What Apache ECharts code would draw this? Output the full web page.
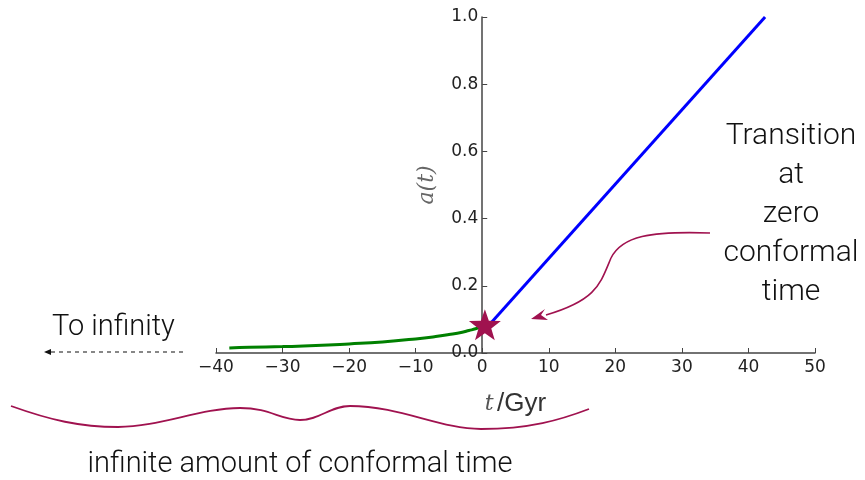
<!DOCTYPE html>
<html>
<head>
<meta charset="utf-8">
<script src="https://cdn.jsdelivr.net/npm/echarts@6/dist/echarts.min.js"></script>
<style>
  html, body { margin: 0; padding: 0; background: #fff; }
  #chart { width: 865px; height: 480px; }
</style>
</head>
<body>
<div id="chart"></div>
<script>
// data
var greenT = [-38, -35, -30, -25, -20, -15, -10, -7, -5, -3, -2, -1, 0];
var greenA = [0.015, 0.017, 0.019, 0.022, 0.027, 0.033, 0.042, 0.049, 0.055, 0.062, 0.067, 0.072, 0.079];
var blueT = [0.8, 42.5];
var blueA = [0.078, 1.0];
var starPoint = [0.4, 0.084];
var xTicks = [-40, -30, -20, -10, 0, 10, 20, 30, 40, 50];
var yTicks = [0.0, 0.2, 0.4, 0.6, 0.8, 1.0];

function pairs(xs, ys) {
  return xs.map(function (x, i) { return [x, ys[i]]; });
}

var crimson = '#a0124f';
var starPath = 'path://M0,-10 L2.35,-3.24 L9.51,-3.09 L3.8,1.24 L5.88,8.09 L0,4 L-5.88,8.09 L-3.8,1.24 L-9.51,-3.09 L-2.35,-3.24 Z';
var annoFont = 'Roboto, "Liberation Sans", sans-serif';

var gridLeft = 216, gridRight = 50;
// the y axis sits at t = 0, not at the grid edge
var yAxisShift = (865 - gridLeft - gridRight) * (0 - xTicks[0]) / (xTicks[xTicks.length - 1] - xTicks[0]);

// cubic pieces for the hand-drawn decorations
function curve(p, color, w) {
  return {
    type: 'bezierCurve',
    shape: { x1: p[0], y1: p[1], cpx1: p[2], cpy1: p[3], cpx2: p[4], cpy2: p[5], x2: p[6], y2: p[7] },
    style: { stroke: color, fill: null, lineWidth: w }
  };
}

var arrowCurve = [
  [710, 233, 650, 231, 622, 236, 611, 258],
  [611, 258, 600, 284, 597, 300, 546, 315]
];
var waveCurve = [
  [11, 406, 50, 420, 80, 427, 118, 427],
  [118, 427, 160, 427, 200, 408, 240, 408],
  [240, 408, 270, 408, 280, 420, 300, 420],
  [300, 420, 320, 420, 330, 406, 350, 406],
  [350, 406, 400, 406, 440, 429, 481, 429],
  [481, 429, 530, 429, 560, 420, 589, 409]
];

var decorations = [
  {
    type: 'text', x: 791, y: 117,
    style: {
      text: 'Transition\nat\nzero\nconformal\ntime',
      align: 'center', lineHeight: 39,
      font: '300 30px ' + annoFont, fill: '#111'
    }
  },
  {
    type: 'polygon',
    shape: { points: [[531, 319], [545, 309], [541, 315], [548, 320]] },
    style: { fill: crimson }
  },
  {
    type: 'text', x: 52, y: 313,
    style: { text: 'To infinity', font: '300 29px ' + annoFont, fill: '#111' }
  },
  {
    type: 'line',
    shape: { x1: 183, y1: 352, x2: 50, y2: 352 },
    style: { stroke: '#111', lineWidth: 1, lineDash: [4, 4] }
  },
  {
    type: 'polygon',
    shape: { points: [[44, 352], [51, 349], [51, 355]] },
    style: { fill: '#111' }
  },
  {
    type: 'text', x: 300, y: 450,
    style: {
      text: 'infinite amount of conformal time', align: 'center',
      font: '300 29px ' + annoFont, fill: '#111'
    }
  }
];
arrowCurve.forEach(function (p) { decorations.push(curve(p, crimson, 1.6)); });
waveCurve.forEach(function (p) { decorations.push(curve(p, crimson, 1.8)); });

var myChart = echarts.init(document.getElementById('chart'));
var option = {
  animation: false,
  grid: { left: gridLeft, right: gridRight, top: 17, bottom: 127 },
  xAxis: {
    type: 'value',
    min: xTicks[0],
    max: xTicks[xTicks.length - 1],
    interval: 10,
    name: '{i|t} {n|/Gyr}',
    nameLocation: 'middle',
    nameGap: 38,
    nameTextStyle: {
      rich: {
        i: { fontFamily: 'DejaVu Serif', fontStyle: 'italic', fontSize: 22, color: '#555' },
        n: { fontFamily: 'Liberation Sans', fontSize: 26, color: '#333' }
      }
    },
    splitLine: { show: false },
    axisLine: { onZero: false, lineStyle: { color: '#444', width: 1.5 } },
    axisTick: { inside: true, length: 5, lineStyle: { color: '#444' } },
    axisLabel: {
      fontFamily: 'DejaVu Sans', fontSize: 17, color: '#222', margin: 6,
      formatter: function (v) { return String(v).replace('-', '\u2212'); }
    }
  },
  yAxis: {
    type: 'value',
    min: yTicks[0],
    max: yTicks[yTicks.length - 1],
    interval: 0.2,
    offset: -yAxisShift,
    name: 'a(t)',
    nameLocation: 'middle',
    nameGap: 44,
    nameTextStyle: { fontFamily: 'DejaVu Serif', fontStyle: 'italic', fontSize: 22, color: '#666' },
    splitLine: { show: false },
    axisLine: { onZero: false, lineStyle: { color: '#444', width: 1.5 } },
    axisTick: { inside: true, length: 5, lineStyle: { color: '#444' } },
    axisLabel: {
      fontFamily: 'DejaVu Sans', fontSize: 17, color: '#222', margin: 4,
      formatter: function (v) { return v.toFixed(1); }
    }
  },
  series: [{
    type: 'line',
    data: pairs(greenT, greenA),
    smooth: true,
    showSymbol: false,
    lineStyle: { color: '#008000', width: 3 },
    z: 3
  }, {
    type: 'line',
    data: pairs(blueT, blueA),
    showSymbol: false,
    lineStyle: { color: '#0000ff', width: 3 },
    z: 3
  }, {
    type: 'scatter',
    data: [starPoint],
    symbol: starPath,
    symbolSize: [32, 31],
    itemStyle: { color: crimson, opacity: 1 },
    z: 5
  }],
  graphic: decorations
};
myChart.setOption(option);
</script>
</body>
</html>
